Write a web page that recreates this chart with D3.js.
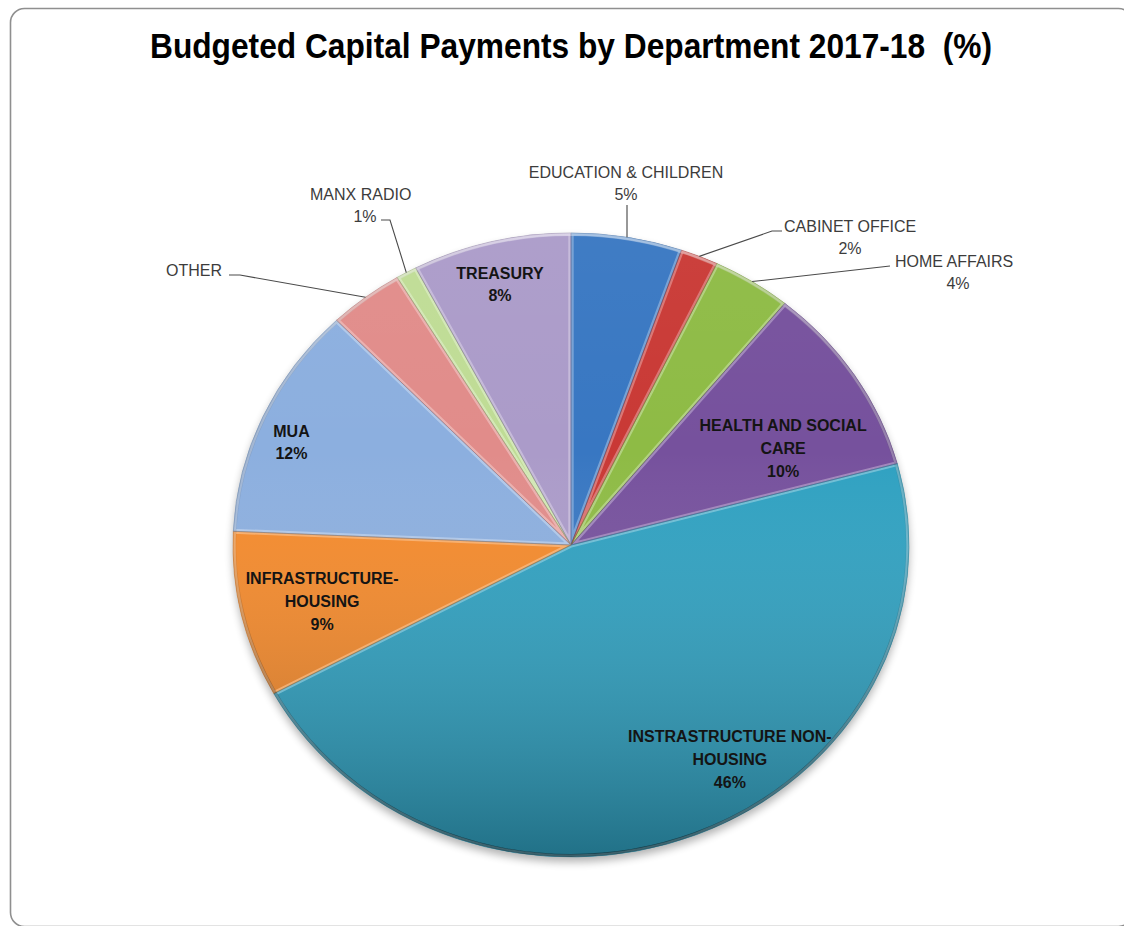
<!DOCTYPE html>
<html>
<head>
<meta charset="utf-8">
<script src="https://cdn.jsdelivr.net/npm/d3@7"></script>
<style>
  html, body { margin: 0; padding: 0; background: #ffffff; }
  svg { display: block; }
</style>
</head>
<body>
<svg id="chart" width="1124" height="926"></svg>
<script>
// Budgeted capital payments by department, 2017-18 (share of total, %)
const departments = [
  "EDUCATION & CHILDREN", "CABINET OFFICE", "HOME AFFAIRS", "HEALTH AND SOCIAL CARE",
  "INSTRASTRUCTURE NON-HOUSING", "INFRASTRUCTURE-HOUSING", "MUA", "OTHER", "MANX RADIO", "TREASURY"
];
const shares = [5.3, 1.8, 3.8, 9.9, 46.3, 8.6, 12.1, 3.6, 1.0, 7.6];
const labelLines = [
  ["EDUCATION & CHILDREN"], ["CABINET OFFICE"], ["HOME AFFAIRS"], ["HEALTH AND SOCIAL", "CARE"],
  ["INSTRASTRUCTURE NON-", "HOUSING"], ["INFRASTRUCTURE-", "HOUSING"], ["MUA"], ["OTHER"], ["MANX RADIO"], ["TREASURY"]
];
const showPercent = [true, true, true, true, true, true, true, false, true, true];
const sliceColours = [
  "#3877c2", "#c93935", "#8ebb45", "#76519d", "#2fa1c1",
  "#f58a2b", "#8cafdf", "#e18c8a", "#bfdc95", "#ab9bc9"
];
const chartTitle = "Budgeted Capital Payments by Department 2017-18  (%)";

// Layout
const W = 1124, H = 926;
const cx = 571, cy = 545, rx = 338, ry = 312;

// Inside labels: block centre given as polar position (degrees clockwise from 12 o'clock, fraction of radius)
const insideLayout = {
  3: { angle: 63.7, frac: 0.70 },
  4: { angle: 145.6, frac: 0.832 },
  5: { angle: 256.3, frac: 0.758 },
  6: { angle: 291.7, frac: 0.89 },
  9: { angle: 345.9, frac: 0.862 }
};
// Outside labels: text anchor, elbow of leader line
const outsideLayout = {
  0: { x: 626, y: 178, anchor: "middle", pctX: 626, elbow: [627, 205] },
  1: { x: 784, y: 232, anchor: "start", pctX: 850, elbow: [772, 231], end: [782, 231] },
  2: { x: 895, y: 267, anchor: "start", pctX: 958, elbow: [890, 266] },
  7: { x: 166, y: 276, anchor: "start", elbow: [240, 275], end: [229, 275] },
  8: { x: 310, y: 200, anchor: "start", pctX: 365, elbow: [390, 220], end: [381, 220] }
};

const svg = d3.select("#chart");
const defs = svg.append("defs");

// Frame
svg.append("rect")
  .attr("x", 10.5).attr("y", 8.5)
  .attr("width", 1122).attr("height", 918)
  .attr("rx", 14).attr("ry", 14)
  .attr("fill", "#ffffff")
  .attr("stroke", "#8f8f8f")
  .attr("stroke-width", 1.6);

// Title
svg.append("text")
  .attr("x", 571).attr("y", 58)
  .attr("text-anchor", "middle")
  .attr("font-family", "'Liberation Sans Narrow', 'Liberation Sans', Arial, sans-serif")
  .attr("font-weight", "bold")
  .attr("font-size", 35)
  .attr("textLength", 842)
  .attr("lengthAdjust", "spacingAndGlyphs")
  .attr("fill", "#000000")
  .style("white-space", "pre")
  .text(chartTitle);

// Pie
const pie = d3.pie().sort(null).value(d => d);
const arcs = pie(shares);
const arc = d3.arc().innerRadius(0).outerRadius(ry);
const rad = d => d * Math.PI / 180;
const pt = (a, f) => [cx + rx * f * Math.sin(a), cy - ry * f * Math.cos(a)];

// shadow filter
const shadow = defs.append("filter").attr("id", "pieShadow")
  .attr("x", "-10%").attr("y", "-10%").attr("width", "120%").attr("height", "125%");
shadow.append("feGaussianBlur").attr("stdDeviation", 4);

// vertical shading over the whole pie
const shade = defs.append("linearGradient").attr("id", "pieShade")
  .attr("x1", 0).attr("y1", 0).attr("x2", 0).attr("y2", 1);
shade.append("stop").attr("offset", "0%").attr("stop-color", "#ffffff").attr("stop-opacity", 0.04);
shade.append("stop").attr("offset", "35%").attr("stop-color", "#ffffff").attr("stop-opacity", 0.0);
shade.append("stop").attr("offset", "100%").attr("stop-color", "#000000").attr("stop-opacity", 0.3);

const rim = defs.append("linearGradient").attr("id", "rimShade")
  .attr("x1", 0).attr("y1", 0).attr("x2", 0).attr("y2", 1);
rim.append("stop").attr("offset", "0%").attr("stop-color", "#ffffff").attr("stop-opacity", 0.35);
rim.append("stop").attr("offset", "50%").attr("stop-color", "#000000").attr("stop-opacity", 0.05);
rim.append("stop").attr("offset", "100%").attr("stop-color", "#000000").attr("stop-opacity", 0.45);

const g = svg.append("g")
  .attr("transform", `translate(${cx},${cy}) scale(${rx / ry},1)`);

g.append("circle")
  .attr("cx", 0).attr("cy", 5).attr("r", ry)
  .attr("fill", "#000000").attr("opacity", 0.3)
  .attr("filter", "url(#pieShadow)");

arcs.forEach((a, i) => {
  defs.append("clipPath").attr("id", "clip" + i)
    .append("path").attr("d", arc(a));
});

g.selectAll("path.slice")
  .data(arcs)
  .join("path")
  .attr("class", "slice")
  .attr("d", arc)
  .attr("fill", (d, i) => sliceColours[i]);

g.append("circle").attr("r", ry).attr("fill", "url(#pieShade)");

// bevel highlight along each slice's edges
g.selectAll("path.bevel")
  .data(arcs)
  .join("path")
  .attr("class", "bevel")
  .attr("d", arc)
  .attr("fill", "none")
  .attr("stroke", (d, i) => d3.interpolateRgb(sliceColours[i], "#ffffff")(0.45))
  .attr("stroke-opacity", 0.7)
  .attr("stroke-width", 5)
  .attr("stroke-linejoin", "round")
  .attr("clip-path", (d, i) => `url(#clip${i})`);

g.selectAll("path.edge")
  .data(arcs)
  .join("path")
  .attr("class", "edge")
  .attr("d", arc)
  .attr("fill", "none")
  .attr("stroke", (d, i) => d3.color(sliceColours[i]).darker(0.8))
  .attr("stroke-opacity", 0.55)
  .attr("stroke-width", 0.8);

g.append("circle").attr("r", ry - 1.5)
  .attr("fill", "none")
  .attr("stroke", "url(#rimShade)")
  .attr("stroke-width", 3);

// Labels
const pctText = i => Math.round(shares[i] / d3.sum(shares) * 100) + "%";
const labels = svg.append("g");

Object.entries(insideLayout).forEach(([k, L]) => {
  const i = +k;
  const lines = labelLines[i].concat(showPercent[i] ? [pctText(i)] : []);
  const [x, y] = pt(rad(L.angle), L.frac);
  const step = 22.7;
  const y0 = y - (lines.length - 1) * step / 2;
  lines.forEach((t, j) => {
    labels.append("text")
      .attr("x", x).attr("y", y0 + j * step + 5.8)
      .attr("text-anchor", "middle")
      .attr("font-family", "'Liberation Sans', Arial, sans-serif")
      .attr("font-weight", "bold")
      .attr("font-size", 16)
      .attr("fill", "#141414")
      .text(t);
  });
});

Object.entries(outsideLayout).forEach(([k, L]) => {
  const i = +k;
  const a = arcs[i];
  const mid = (a.startAngle + a.endAngle) / 2;
  const start = pt(mid, 1);
  const pts = [start, L.elbow];
  if (L.end) pts.push(L.end);
  labels.append("path")
    .attr("d", d3.line()(pts))
    .attr("fill", "none")
    .attr("stroke", "#4a4a4a")
    .attr("stroke-width", 1.1);

  const font = "'Liberation Sans', Arial, sans-serif";
  labels.append("text")
    .attr("x", L.x).attr("y", L.y)
    .attr("text-anchor", L.anchor)
    .attr("font-family", font)
    .attr("font-size", 16)
    .attr("fill", "#3c3c3c")
    .text(labelLines[i][0]);
  if (showPercent[i]) {
    labels.append("text")
      .attr("x", L.pctX).attr("y", L.y + 22)
      .attr("text-anchor", "middle")
      .attr("font-family", font)
      .attr("font-size", 16)
      .attr("fill", "#3c3c3c")
      .text(pctText(i));
  }
});
</script>
</body>
</html>
